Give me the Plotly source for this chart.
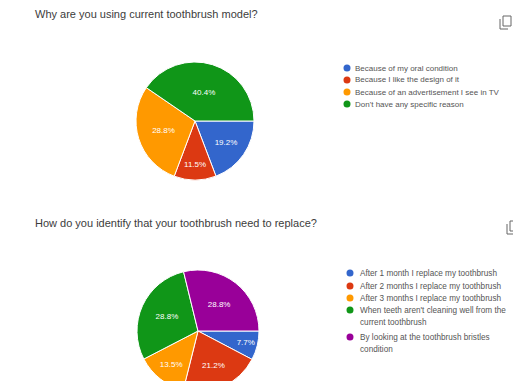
import plotly.graph_objects as go

# ---- data ----
title1 = "Why are you using current toothbrush model?"
labels1 = ["Because of my oral condition", "Because I like the design of it",
           "Because of an advertisement I see in TV", "Don't have any specific reason"]
values1 = [19.2, 11.5, 28.8, 40.4]

title2 = "How do you identify that your toothbrush need to replace?"
labels2 = ["After 1 month I replace my toothbrush", "After 2 months I replace my toothbrush",
           "After 3 months I replace my toothbrush",
           "When teeth aren't cleaning well from the<br>current toothbrush",
           "By looking at the toothbrush bristles<br>condition"]
values2 = [7.7, 21.2, 13.5, 28.8, 28.8]

colors = ["#3366cc", "#dc3912", "#ff9900", "#109618", "#990099"]

W, H = 513, 400
OFF = 0
FONT = "Liberation Sans, Arial, sans-serif"


def px(x):
    return (x - OFF) / W


def py(y):
    return 1 - (y - OFF) / H


def pie_domain(cx, cy, r):
    return dict(x=[px(cx - r), px(cx + r)], y=[py(cy + r), py(cy - r)])


fig = go.Figure()
fig.add_trace(go.Pie(
    labels=labels1, values=values1, sort=False, direction="clockwise", rotation=90,
    marker=dict(colors=colors[:4], line=dict(color="white", width=1)),
    texttemplate="%{value:.1f}%", textposition="inside", insidetextorientation="horizontal",
    textfont=dict(color="white", size=8, family=FONT),
    domain=pie_domain(195, 121, 59), showlegend=False, hoverinfo="label+percent"))
fig.add_trace(go.Pie(
    labels=[l.replace("<br>", " ") for l in labels2], values=values2, sort=False,
    direction="clockwise", rotation=90,
    marker=dict(colors=colors[:5], line=dict(color="white", width=1)),
    texttemplate="%{value:.1f}%", textposition="inside", insidetextorientation="horizontal",
    textfont=dict(color="white", size=8, family=FONT),
    domain=pie_domain(198, 331, 61), showlegend=False, hoverinfo="label+percent"))

annotations = []
shapes = []
# titles
for t, y in [(title1, 14), (title2, 223)]:
    annotations.append(dict(x=px(33), y=py(y), xref="paper", yref="paper", text=t,
                            showarrow=False, xanchor="left", yanchor="middle",
                            font=dict(size=11, color="#3c3c3c", family=FONT)))


def legend(labels, mx, tx, ys, line_gap, fs):
    for lab, y, c in zip(labels, ys, colors):
        shapes.append(dict(type="circle", xref="paper", yref="paper",
                           xsizemode="pixel", ysizemode="pixel",
                           xanchor=px(mx), yanchor=py(y), x0=-3.5, x1=3.5, y0=-3.5, y1=3.5,
                           fillcolor=c, line=dict(width=0)))
        for i, part in enumerate(lab.split("<br>")):
            annotations.append(dict(x=px(tx), y=py(y + i * line_gap), xref="paper", yref="paper",
                                    text=part, showarrow=False, xanchor="left", yanchor="middle",
                                    font=dict(size=fs, color="#555555", family=FONT)))


legend(labels1, 347, 353, [68, 80, 92, 104], 12, 8)
legend(labels2, 350, 358, [273, 286, 298, 310, 337], 12.5, 8.2)

# copy icons
for (ix, iy) in [(500, 16), (507, 221)]:
    shapes.append(dict(type="rect", xref="paper", yref="paper",
                       x0=px(ix + 3), x1=px(ix + 11), y0=py(iy), y1=py(iy + 10),
                       line=dict(color="#666666", width=1)))
    shapes.append(dict(type="path", xref="paper", yref="paper",
                       path=f"M {px(ix)} {py(iy + 3)} L {px(ix)} {py(iy + 13)} L {px(ix + 8)} {py(iy + 13)}",
                       line=dict(color="#666666", width=1)))

fig.update_layout(width=W, height=H, margin=dict(l=0, r=0, t=0, b=0),
                  paper_bgcolor="white", plot_bgcolor="white",
                  annotations=annotations, shapes=shapes, showlegend=False)

fig.write_html("out.html", config={"displayModeBar": False},
               post_script="document.body.style.margin='0';"
                           "document.documentElement.style.overflow='hidden';"
                           "document.body.style.overflow='hidden';")
